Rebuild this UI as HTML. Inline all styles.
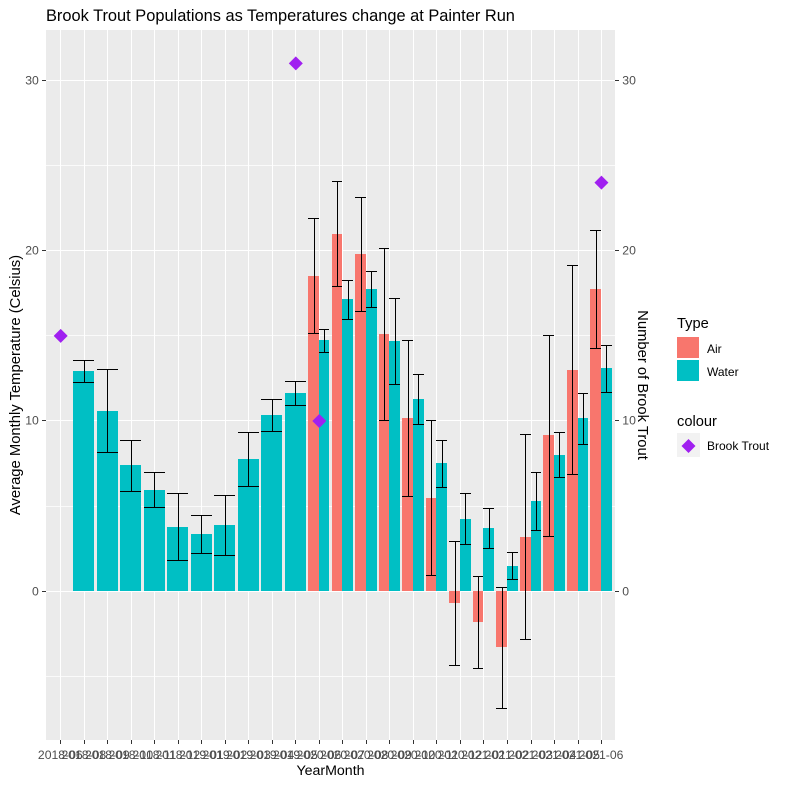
<!DOCTYPE html>
<html>
<head>
<meta charset="utf-8">
<title>Brook Trout Populations</title>
<style>
html,body{margin:0;padding:0;background:#fff;}
svg{display:block;}
text{font-family:"Liberation Sans",Arial,sans-serif;}
</style>
</head>
<body>
<svg id="chart" xmlns="http://www.w3.org/2000/svg" width="785" height="785" viewBox="0 0 785 785">
  <rect x="0" y="0" width="785" height="785" fill="#fff"/>
  <rect x="46" y="30" width="569" height="710" fill="#EBEBEB" shape-rendering="crispEdges"/>
  <g id="grid" shape-rendering="crispEdges"></g>
  <g id="bars" shape-rendering="crispEdges"></g>
  <g id="errors" shape-rendering="crispEdges"></g>
  <g id="points"></g>
  <g id="axes"></g>

  <text x="46" y="21" font-size="16.4" fill="#000">Brook Trout Populations as Temperatures change at Painter Run</text>
  <text x="330.5" y="775" font-size="14.2" text-anchor="middle" fill="#000">YearMonth</text>
  <text transform="translate(20,385) rotate(-90)" font-size="14.8" text-anchor="middle" fill="#000">Average Monthly Temperature (Celsius)</text>
  <text transform="translate(638,385) rotate(90)" font-size="14.8" text-anchor="middle" fill="#000">Number of Brook Trout</text>

  <g>
    <text x="677" y="328" font-size="14.67" fill="#000">Type</text>
    <rect x="677" y="337" width="22" height="21" fill="#F8766D" shape-rendering="crispEdges"/>
    <text x="707" y="353" font-size="12" fill="#000">Air</text>
    <rect x="677" y="360" width="22" height="21" fill="#00BFC4" shape-rendering="crispEdges"/>
    <text x="707" y="376" font-size="12" fill="#000">Water</text>
  </g>
  <g>
    <text x="677" y="426" font-size="14.67" fill="#000">colour</text>
    <rect x="677" y="433" width="23" height="24" fill="#F2F2F2" shape-rendering="crispEdges"/>
    <polygon points="688.5,439 695.5,446 688.5,453 681.5,446" fill="#A020F0"/>
    <text x="707" y="450" font-size="12" fill="#000">Brook Trout</text>
  </g>
</svg>
<script>
const months = ["2018-06","2018-08","2018-09","2018-10","2018-11","2018-12","2019-01","2019-02","2019-03","2019-04","2019-05","2020-06","2020-07","2020-08","2020-09","2020-10","2020-11","2020-12","2021-01","2021-02","2021-03","2021-04","2021-05","2021-06"];
const airMean  = [null,null,null,null,null,null,null,null,null,null,null,18.5,20.96,19.79,15.09,10.16,5.46,-0.7,-1.82,-3.29,3.17,9.16,12.98,17.73];
const airUpper = [null,null,null,null,null,null,null,null,null,null,null,21.88,24.06,23.12,20.12,14.72,10.0,2.92,0.86,0.22,9.2,15.02,19.12,21.18];
const airLower = [null,null,null,null,null,null,null,null,null,null,null,15.13,17.89,16.42,10.02,5.58,0.92,-4.36,-4.54,-6.89,-2.84,3.21,6.85,14.25];
const waterMean  = [null,12.92,10.57,7.4,5.93,3.76,3.35,3.88,7.75,10.33,11.63,14.74,17.15,17.73,14.68,11.27,7.52,4.23,3.7,1.47,5.28,7.99,10.16,13.09];
const waterUpper = [null,13.55,13.0,8.85,6.97,5.73,4.44,5.62,9.32,11.26,12.31,15.37,18.24,18.77,17.19,12.72,8.85,5.73,4.85,2.27,6.97,9.32,11.6,14.43];
const waterLower = [null,12.25,8.14,5.85,4.91,1.8,2.21,2.1,6.16,9.39,10.9,14.02,15.95,16.69,12.14,9.79,6.09,2.74,2.5,0.69,3.56,6.68,8.61,11.67];
const troutCount = [15,null,null,null,null,null,null,null,null,null,31,10,null,null,null,null,null,null,null,null,null,null,null,24];
const yTicks = [0,10,20,30];
const yMinorTicks = [-5,5,15,25];

const SVG_NS = "http://www.w3.org/2000/svg";
function xScale(i){ return 60.3 + 23.51 * i; }
function yScale(v){ return 591.3 - 17.03 * v; }
const BAND = 23.51 * 0.9;

function svgEl(tag, parent, attrs){
  const el = document.createElementNS(SVG_NS, tag);
  for (const k in attrs) el.setAttribute(k, attrs[k]);
  parent.appendChild(el);
  return el;
}
function snapX(v){ return Math.round(v) + 0.5; }
function snapY(v){ return Math.floor(v) + 0.5; }

const gridG = document.getElementById("grid");
const barsG = document.getElementById("bars");
const errG = document.getElementById("errors");
const ptsG = document.getElementById("points");
const axesG = document.getElementById("axes");

yMinorTicks.forEach(function(v){
  const l = svgEl("line", gridG, {x1:46, x2:615, y1:snapY(yScale(v)), y2:snapY(yScale(v)), stroke:"#fff", "stroke-width":1, opacity:0.75});
  
  
});
yTicks.forEach(function(v){
  const l = svgEl("line", gridG, {x1:46, x2:615, y1:snapY(yScale(v)), y2:snapY(yScale(v)), stroke:"#fff", "stroke-width":1});
  
  
});
months.forEach(function(m, i){
  const l = svgEl("line", gridG, {x1:snapX(xScale(i)), x2:snapX(xScale(i)), y1:30, y2:740, stroke:"#fff", "stroke-width":1});
  
  
});

function drawBar(cx, w, v, fill, name){
  const y0 = yScale(0), y1 = yScale(v);
  const left = Math.round(cx - w / 2), right = Math.round(cx + w / 2);
  const top = Math.round(Math.min(y0, y1)), bottom = Math.round(Math.max(y0, y1));
  const r = svgEl("rect", barsG, {x:left, y:top, width:right - left, height:bottom - top, fill:fill});
  
  
}
function drawError(cx, w, up, lo, name){
  const left = Math.round(cx - w / 2), right = Math.round(cx + w / 2);
  const mid = snapX(cx);
  const yu = snapY(yScale(up)), yl = snapY(yScale(lo));
  const g = svgEl("path", errG, {
    d:"M" + left + " " + yu + "H" + right + "M" + left + " " + yl + "H" + right + "M" + mid + " " + yu + "V" + yl,
    fill:"none", stroke:"#000", "stroke-width":1
  });
  
  
}

months.forEach(function(m, i){
  const hasAir = airMean[i] !== null, hasWater = waterMean[i] !== null;
  const both = hasAir && hasWater;
  const w = both ? BAND / 2 : BAND;
  if (hasAir) drawBar(both ? xScale(i) - BAND / 4 : xScale(i), w, airMean[i], "#F8766D", "bar-air");
  if (hasWater) drawBar(both ? xScale(i) + BAND / 4 : xScale(i), w, waterMean[i], "#00BFC4", "bar-water");
});
months.forEach(function(m, i){
  const hasAir = airMean[i] !== null, hasWater = waterMean[i] !== null;
  const both = hasAir && hasWater;
  const w = both ? BAND / 2 : BAND;
  if (hasAir) drawError(both ? xScale(i) - BAND / 4 : xScale(i), w, airUpper[i], airLower[i], "error-bar-air");
  if (hasWater) drawError(both ? xScale(i) + BAND / 4 : xScale(i), w, waterUpper[i], waterLower[i], "error-bar-water");
});

months.forEach(function(m, i){
  if (troutCount[i] === null) return;
  const cx = xScale(i) + 0.4, cy = yScale(troutCount[i]);
  const p = svgEl("polygon", ptsG, {
    points:cx + "," + (cy - 7) + " " + (cx + 7) + "," + cy + " " + cx + "," + (cy + 7) + " " + (cx - 7) + "," + cy,
    fill:"#A020F0"
  });
  
  
});

yTicks.forEach(function(v){
  const y = snapY(yScale(v));
  const t1 = svgEl("line", axesG, {x1:42, x2:46, y1:y, y2:y, stroke:"#333", "stroke-width":1, "shape-rendering":"crispEdges"});
  
  
  const t2 = svgEl("line", axesG, {x1:615, x2:619, y1:y, y2:y, stroke:"#333", "stroke-width":1, "shape-rendering":"crispEdges"});
  
  
  const a = svgEl("text", axesG, {x:38.8, y:y + 4.2, "font-size":12.2, "text-anchor":"end", fill:"#4D4D4D"});
  a.textContent = String(v);
  
  
  const b = svgEl("text", axesG, {x:622.3, y:y + 4.2, "font-size":12.2, fill:"#4D4D4D"});
  b.textContent = String(v);
  
  
});
months.forEach(function(m, i){
  const x = snapX(xScale(i));
  const t = svgEl("line", axesG, {x1:x, x2:x, y1:740, y2:744, stroke:"#333", "stroke-width":1, "shape-rendering":"crispEdges"});
  
  
  const lab = svgEl("text", axesG, {x:xScale(i), y:759, "font-size":12.2, "text-anchor":"middle", fill:"#4D4D4D"});
  lab.textContent = m;
  
  
});
</script>
</body>
</html>
